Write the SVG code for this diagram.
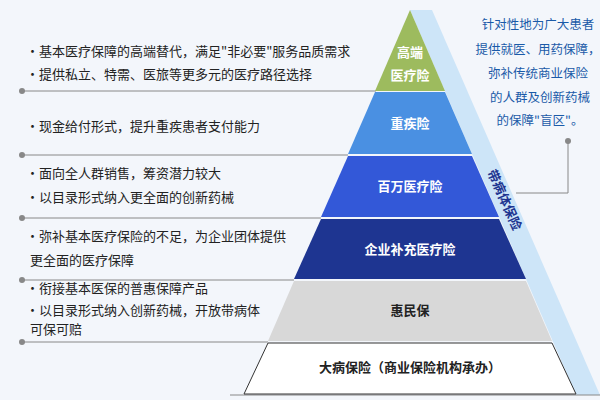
<svg xmlns="http://www.w3.org/2000/svg" width="600" height="400" viewBox="0 0 600 400">
<style>
.l{font-family:"Noto Sans CJK SC","Liberation Sans",sans-serif;font-size:13px;fill:#222}
.c{font-family:"Noto Sans CJK SC","Liberation Sans",sans-serif;font-size:13px;font-weight:bold;text-anchor:middle}
.r{font-family:"Noto Sans CJK SC","Liberation Sans",sans-serif;font-size:12.5px;fill:#1a5aa8;text-anchor:middle}
.ln{stroke:#888;stroke-width:1;fill:none}
.d{fill:#888}
</style>
<rect width="600" height="400" fill="#f3f6fb"/>
<polygon points="410,10 432,10 600,395 576,395" fill="#cde5f8"/>
<g id="connectors">
<line class="ln" x1="22" y1="91" x2="376" y2="91"/><circle class="d" cx="22" cy="91" r="3"/>
<line class="ln" x1="22" y1="155" x2="348" y2="155"/><circle class="d" cx="22" cy="155" r="3"/>
<line class="ln" x1="22" y1="218" x2="321" y2="218"/><circle class="d" cx="22" cy="218" r="3"/>
<line class="ln" x1="22" y1="280" x2="294" y2="280"/><circle class="d" cx="22" cy="280" r="3"/>
<line class="ln" x1="22" y1="342" x2="268" y2="342"/><circle class="d" cx="22" cy="342" r="3"/>
<line class="ln" x1="230" y1="395" x2="600" y2="395"/>
<polyline class="ln" points="568,141 568,193 516,193"/><circle class="d" cx="568" cy="141" r="3"/>
</g>
<g id="n-gaoduan"><polygon points="410,10 445,91 375,91" fill="#9dbb5e"/><text class="c" x="410" y="57" fill="#fff">高端</text><text class="c" x="410" y="80" fill="#fff">医疗险</text></g>
<g id="n-zhongji"><polygon points="375,92 445,92 472,154 348,154" fill="#4a90e2"/><text class="c" x="410" y="128" fill="#fff">重疾险</text></g>
<g id="n-baiwan"><polygon points="348,156 472,156 499,217 321,217" fill="#3358d8"/><text class="c" x="410" y="191" fill="#fff">百万医疗险</text></g>
<g id="n-qiye"><polygon points="321,219 499,219 526,279 294,279" fill="#1e3591"/><text class="c" x="410" y="254" fill="#fff">企业补充医疗险</text></g>
<g id="n-huiminbao"><polygon points="294,281 526,281 552,341 268,341" fill="#d8d8d8"/><text class="c" x="410" y="315" fill="#222">惠民保</text></g>
<g id="n-dabing"><polygon points="268,343 552,343 576,394 244,394" fill="#fff" stroke="#333" stroke-width="1"/><text class="c" x="410" y="372" fill="#222">大病保险（商业保险机构承办）</text></g>
<g id="n-daibingti"><text class="c" x="504" y="204" fill="#1e3591" font-size="12" transform="rotate(66 504 200)">带病体保险</text></g>
<g id="left-text">
<text class="l" x="26" y="56">·基本医疗保障的高端替代，满足"非必要"服务品质需求</text>
<text class="l" x="26" y="79">·提供私立、特需、医旅等更多元的医疗路径选择</text>
<text class="l" x="26" y="131">·现金给付形式，提升重疾患者支付能力</text>
<text class="l" x="26" y="178">·面向全人群销售，筹资潜力较大</text>
<text class="l" x="26" y="202">·以目录形式纳入更全面的创新药械</text>
<text class="l" x="26" y="241">·弥补基本医疗保险的不足，为企业团体提供</text>
<text class="l" x="30" y="265">更全面的医疗保障</text>
<text class="l" x="26" y="293">·衔接基本医保的普惠保障产品</text>
<text class="l" x="26" y="315">·以目录形式纳入创新药械，开放带病体</text>
<text class="l" x="30" y="334">可保可赔</text>
</g>
<g id="right-text">
<text class="r" x="538" y="29">针对性地为广大患者</text>
<text class="r" x="538" y="54">提供就医、用药保障，</text>
<text class="r" x="538" y="78">弥补传统商业保险</text>
<text class="r" x="540" y="102">的人群及创新药械</text>
<text class="r" x="540" y="125">的保障"盲区"。</text>
</g>
</svg>
